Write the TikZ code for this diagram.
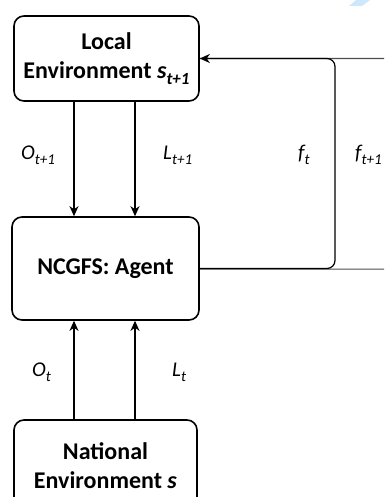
\documentclass[tikz,border=0pt]{standalone}
\usepackage{fontspec}
\setmainfont{Carlito}
\usetikzlibrary{arrows.meta}
\definecolor{artblue}{RGB}{205,232,250}
\newcommand{\lsub}[1]{\raisebox{-0.55ex}{\fontsize{15}{15}\selectfont #1}}
\newcommand{\bsub}[1]{\raisebox{-0.5ex}{\fontsize{17}{17}\selectfont #1}}
\begin{document}
\begin{tikzpicture}[x=1pt,y=-1pt,
 box/.style={draw=black, line width=1.6pt, rounded corners=10pt, align=center,
   font=\fontsize{24}{29}\selectfont\bfseries, inner sep=0pt},
 conn/.style={line width=1.2pt, -{Stealth[length=10pt,width=9pt,inset=3pt]}},
 loop/.style={line width=1.2pt},
 lbl/.style={font=\fontsize{21}{24}\selectfont\itshape, inner sep=0pt, anchor=base west},
 ]
\useasboundingbox (0,0) rectangle (384,497);
\clip (0,0) rectangle (384,497);
\fill[artblue] (356,0) -- (370,0) -- (362,6) -- (349,6) -- cycle;
\node[box, minimum width=185pt, minimum height=85pt] (local) at (106.5,58.5)
  {Local\\Environment \textit{s}\bsub{\textit{t+1}}};
\node[box, minimum width=187pt, minimum height=103pt] (agent) at (105.5,268.5) {NCGFS: Agent};
\node[box, minimum width=183pt, minimum height=92pt] (nat) at (105.5,466)
  {National\\Environment \textit{s}};
\coordinate (xa) at (74,0);
\coordinate (xb) at (135,0);
\coordinate (ci) at (335,0);
\coordinate (co) at (430,0);
\draw[conn] (local.south -| xa) -- (agent.north -| xa);
\draw[conn] (local.south -| xb) -- (agent.north -| xb);
\draw[conn] (nat.north -| xa) -- (agent.south -| xa);
\draw[conn] (nat.north -| xb) -- (agent.south -| xb);
\draw[loop, black!70, rounded corners=8pt] ([yshift=-0.6pt]agent.east) -- ([yshift=-0.6pt]agent.east -| co)
  -- (local.east -| co) -- (local.east);
\draw[conn, rounded corners=8pt] (agent.east) -- (agent.east -| ci) -- (local.east -| ci) -- (local.east);
\node[lbl] (lo1) at (21,159) {O\lsub{t+1}};
\node[lbl] (ll1) at (163,159) {L\lsub{t+1}};
\node[lbl] (lf0) at (298,159) {f\lsub{t}};
\node[lbl] (lf1) at (355,159) {f\lsub{t+1}};
\node[lbl] (lo0) at (32,376) {O\lsub{t}};
\node[lbl] (ll0) at (172,376) {L\lsub{t}};
\end{tikzpicture}
\end{document}
